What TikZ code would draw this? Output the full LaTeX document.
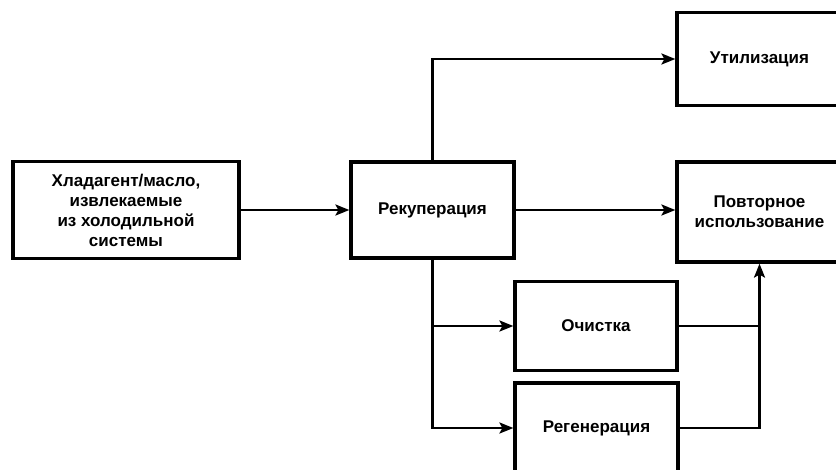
\documentclass[tikz,border=0pt]{standalone}
\usepackage{fontspec}
\setmainfont{Liberation Sans}
\usetikzlibrary{arrows.meta}
\begin{document}
\begin{tikzpicture}[x=1pt,y=-1pt,
  box/.style={draw, line width=3.2pt, rectangle, inner sep=0pt, align=center,
    font=\bfseries\fontsize{17}{20}\selectfont},
  flow/.style={line width=2.4pt, -{Stealth[length=14pt,width=11pt,inset=3pt]}},
  plain/.style={line width=2.4pt}]
\useasboundingbox (0,0) rectangle (836,469);
\clip (0,0) rectangle (836,469);
\node[box, minimum width=226pt, minimum height=97pt] (src) at (126,210)
  {Хладагент/масло,\\извлекаемые\\из холодильной\\системы};
\node[box, minimum width=163pt, minimum height=96pt] (rec) at (432.5,210) {Рекуперация};
\node[box, minimum width=165pt, minimum height=93pt] (util) at (759.5,59) {Утилизация};
\node[box, minimum width=165pt, minimum height=100pt] (reuse) at (759.5,212) {Повторное\\использование};
\node[box, minimum width=162pt, minimum height=89pt] (clean) at (596,326) {Очистка};
\node[box, minimum width=163pt, minimum height=90pt] (regen) at (596.5,428) {Регенерация};
\draw[flow] (src.east) -- (rec.west);
\draw[flow] (rec.east) -- (rec.east -| reuse.west);
\draw[flow] (rec.north) |- (util.west);
\draw[flow] (rec.south) |- (clean.west);
\draw[flow] (rec.south) |- (regen.west);
\draw[plain] (clean.east) -- (clean.east -| reuse.south);
\draw[flow] (regen.east) -| (reuse.south);
\end{tikzpicture}
\end{document}
